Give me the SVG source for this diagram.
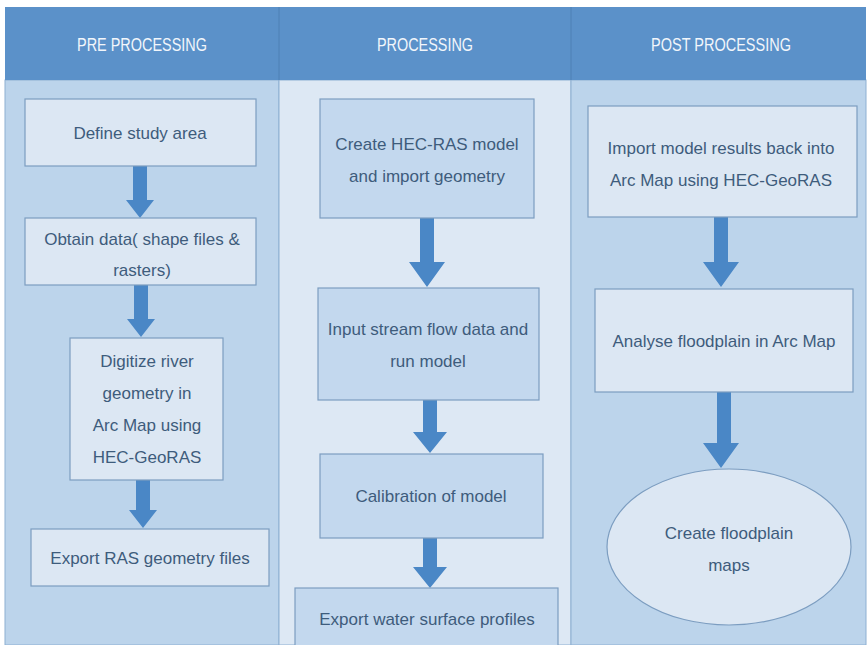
<svg xmlns="http://www.w3.org/2000/svg" width="868" height="645" viewBox="0 0 868 645">
<style>
.hdr{fill:#5b91c9}
.pane{stroke:#8eb0d2;stroke-width:1}
.box{fill:#dce7f3;stroke:#7c9dc0;stroke-width:1.2}
.mbox{fill:#c3d8ee;stroke:#7c9dc0;stroke-width:1.2}
.t{font-family:"Liberation Sans","Open Sans",sans-serif;font-size:17px;fill:#3e5c7c;text-anchor:middle}
.h{font-family:"Liberation Sans","Open Sans",sans-serif;font-size:19px;fill:#f2f6fb;text-anchor:middle}
.arr{fill:#4a87c6}
</style>
<rect width="868" height="645" fill="#ffffff"/>
<g id="panels">
<rect class="pane" x="5" y="80" width="274" height="565" fill="#bcd4eb"/>
<rect class="pane" x="279" y="80" width="292" height="565" fill="#dde8f4"/>
<rect class="pane" x="571" y="80" width="295" height="565" fill="#bcd4eb"/>
<rect class="hdr" x="5" y="7" width="861" height="73"/>
<line x1="279" y1="7" x2="279" y2="80" stroke="#4f80b5" stroke-width="1"/>
<line x1="571" y1="7" x2="571" y2="80" stroke="#4f80b5" stroke-width="1"/>
</g>
<g id="header-pre"><text class="h" x="142" y="51" textLength="130" lengthAdjust="spacingAndGlyphs">PRE PROCESSING</text></g>
<g id="header-proc"><text class="h" x="425" y="51" textLength="96" lengthAdjust="spacingAndGlyphs">PROCESSING</text></g>
<g id="header-post"><text class="h" x="721" y="51" textLength="140" lengthAdjust="spacingAndGlyphs">POST PROCESSING</text></g>

<g id="connectors">
<path class="arr" d="M133,166 H147 V200 H154 L140,218 L126,200 H133 Z"/>
<path class="arr" d="M134,285 H148 V319 H155 L141,337 L127,319 H134 Z"/>
<path class="arr" d="M136,480 H150 V510 H157 L143,528 L129,510 H136 Z"/>
<path class="arr" d="M420,218 H434 V262 H445 L427,287 L409,262 H420 Z"/>
<path class="arr" d="M423,400 H437 V432 H447 L430,453 L413,432 H423 Z"/>
<path class="arr" d="M423,538 H437 V567 H447 L430,588 L413,567 H423 Z"/>
<path class="arr" d="M714,217 H728 V262 H739 L721,287 L703,262 H714 Z"/>
<path class="arr" d="M717,392 H731 V443 H739 L721,468 L703,443 H717 Z"/>
</g>

<g id="n1"><rect class="box" x="25" y="99" width="231" height="67"/><text class="t" x="140" y="139">Define study area</text></g>
<g id="n2"><rect class="box" x="25" y="218" width="231" height="67"/><text class="t" x="142" y="245">Obtain data( shape files &amp;</text><text class="t" x="142" y="276">rasters)</text></g>
<g id="n3"><rect class="box" x="70" y="338" width="153" height="142"/><text class="t" x="147" y="367">Digitize river</text><text class="t" x="147" y="399">geometry in</text><text class="t" x="147" y="431">Arc Map using</text><text class="t" x="147" y="463">HEC-GeoRAS</text></g>
<g id="n4"><rect class="box" x="31" y="529" width="238" height="57"/><text class="t" x="150" y="564">Export RAS geometry files</text></g>

<g id="m1"><rect class="mbox" x="320" y="99" width="214" height="119"/><text class="t" x="427" y="150">Create HEC-RAS model</text><text class="t" x="427" y="182">and import geometry</text></g>
<g id="m2"><rect class="mbox" x="318" y="288" width="221" height="112"/><text class="t" x="428" y="335">Input stream flow data and</text><text class="t" x="428" y="367">run model</text></g>
<g id="m3"><rect class="mbox" x="320" y="454" width="223" height="84"/><text class="t" x="431" y="502">Calibration of model</text></g>
<g id="m4"><rect class="mbox" x="295" y="588" width="263" height="70"/><text class="t" x="427" y="625">Export water surface profiles</text></g>

<g id="p1"><rect class="box" x="588" y="106" width="269" height="111"/><text class="t" x="721" y="154">Import model results back into</text><text class="t" x="721" y="186">Arc Map using HEC-GeoRAS</text></g>
<g id="p2"><rect class="box" x="595" y="289" width="258" height="103"/><text class="t" x="724" y="347">Analyse floodplain in Arc Map</text></g>
<g id="p3"><ellipse class="box" cx="729" cy="547" rx="122" ry="78"/><text class="t" x="729" y="539">Create floodplain</text><text class="t" x="729" y="571">maps</text></g>
</svg>
